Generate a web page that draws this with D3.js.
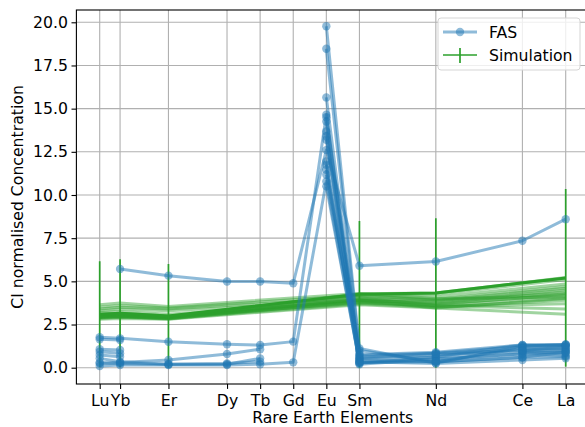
<!DOCTYPE html>
<meta charset="utf-8">
<script src="https://d3js.org/d3.v7.min.js"></script>
<style>
body { margin: 0; background: #fff; }
text { font-family: "DejaVu Sans", sans-serif; fill: #000; }
</style>
<div id="chart"></div>
<script>

// elements on the x axis, placed by ionic radius
var elements = ["Lu", "Yb", "Er", "Dy", "Tb", "Gd", "Eu", "Sm", "Nd", "Ce", "La"];
var radii = [0.977, 0.985, 1.004, 1.027, 1.040, 1.053, 1.066, 1.079, 1.109, 1.143, 1.160];

// FAS samples (null = not measured), order as in elements
var fasSamples = [
  [null, 5.72, 5.33, 4.99, 4.99, 4.89, 12.6, 5.9, 6.15, 7.35, 8.6],
  [1.76, 1.7, 1.5, 1.36, 1.31, 1.51, 14.65, 0.75, 0.9, 1.32, 1.35],
  [0.1, 0.16, 0.15, 0.16, 0.2, 0.31, 10.78, 0.3, 0.5, 0.8, 0.9],
  [1.65, 1.6, null, null, null, null, 19.77, 1.12, 0.25, 1.25, 1.32],
  [0.25, 0.3, 0.45, 0.79, 1.07, null, 18.47, 1.0, 0.35, 1.12, 1.2],
  [1.07, 1.03, null, null, null, null, 15.65, 0.6, 0.83, 1.0, 1.03],
  [0.93, 0.83, null, null, null, null, 14.5, 0.55, 0.75, 0.93, 0.83],
  [0.74, 0.64, null, null, null, null, 14.26, 0.5, 0.64, 1.32, 1.28],
  [0.54, 0.35, 0.2, 0.25, 0.35, null, 13.68, 0.45, 0.35, 0.6, 0.64],
  [0.3, 0.25, 0.2, 0.2, 0.54, null, 13.4, 0.4, null, 0.93, 1.0],
  [null, null, null, null, null, null, 13.2, 0.35, 0.25, 0.45, 0.55],
  [null, null, null, null, null, null, 11.94, 0.25, 0.64, 1.12, 1.1],
  [null, null, null, null, null, null, 11.75, 0.2, 0.5, 0.8, 0.7],
  [null, null, null, null, null, null, 11.46, 0.7, 0.83, 1.25, 1.35],
  [null, null, null, null, null, null, 11.17, 0.85, null, 1.0, 1.2],
  [null, null, null, null, null, null, 10.5, 0.3, 0.35, 0.6, 0.9]
];

// simulation runs, only at these elements
var simElements = ["Lu", "Yb", "Er", "Sm", "Nd", "La"];
var simRuns = [
  [3.05, 3.1, 2.95, 4.28, 4.32, 5.22],
  [3.0, 3.05, 2.9, 4.2, 4.25, 5.1],
  [2.95, 3.0, 2.88, 4.1, 4.1, 4.85],
  [2.9, 2.95, 2.85, 3.95, 3.9, 4.6],
  [2.85, 2.92, 2.82, 3.85, 3.8, 4.5],
  [2.95, 3.0, 2.9, 3.9, 3.75, 4.4],
  [3.1, 3.15, 3.0, 3.9, 3.7, 4.2],
  [3.0, 3.05, 2.95, 3.75, 3.6, 4.05],
  [2.9, 2.95, 2.85, 3.7, 3.5, 3.9],
  [3.2, 3.25, 3.1, 3.8, 3.55, 3.7],
  [3.5, 3.6, 3.45, 4.2, 3.9, 4.3],
  [3.65, 3.75, 3.55, 4.3, 4.0, 4.1],
  [3.4, 3.5, 3.4, 4.05, 3.6, 3.4],
  [3.3, 3.4, 3.3, 3.9, 3.45, 3.1],
  [2.8, 2.85, 2.8, 3.65, 3.45, 4.0],
  [3.0, 3.02, 2.92, 4.0, 3.95, 4.7],
  [2.92, 2.97, 2.87, 3.8, 3.65, 4.25]
];
var simMean = [3.1, 3.15, 3.0, 4.25, 4.33, 5.2];
var simErr = [3.07, 3.13, 3.0, 4.25, 4.33, 5.14];

var yTicks = [0, 2.5, 5, 7.5, 10, 12.5, 15, 17.5, 20];

var blue = "#1f77b4", green = "#2ca02c";
var fontSize = "15.7px";

// axes box (right edge falls just outside the picture)
var axLeft = 76.4, axRight = 589, axTop = 10, axBottom = 384;

var svg = d3.select("#chart")
  .append("svg")
    .attr("width", 585)
    .attr("height", 427);

var x = d3.scaleLinear().domain([0.96785, 1.16915]).range([axLeft, axRight]);
var y = d3.scaleLinear().domain([-0.944, 20.712]).range([axBottom, axTop]);

function radiusOf(el) { return radii[elements.indexOf(el)]; }

// grid
svg.append("g").selectAll("line").data(radii).enter().append("line")
  .attr("x1", function(d) { return x(d); }).attr("x2", function(d) { return x(d); })
  .attr("y1", axTop).attr("y2", axBottom)
  .attr("stroke", "#b0b0b0").attr("stroke-width", 1.1);
svg.append("g").selectAll("line").data(yTicks).enter().append("line")
  .attr("y1", function(d) { return y(d); }).attr("y2", function(d) { return y(d); })
  .attr("x1", axLeft).attr("x2", axRight)
  .attr("stroke", "#b0b0b0").attr("stroke-width", 1.1);

svg.append("defs").append("clipPath").attr("id", "clip")
  .append("rect").attr("x", axLeft).attr("y", axTop)
  .attr("width", axRight - axLeft).attr("height", axBottom - axTop);

var plot = svg.append("g").attr("clip-path", "url(#clip)");

// simulation runs
var simLine = d3.line()
  .x(function(d, i) { return x(radiusOf(simElements[i])); })
  .y(function(d) { return y(d); });

plot.append("g").selectAll("path").data(simRuns).enter().append("path")
  .attr("d", simLine)
  .attr("fill", "none")
  .attr("stroke", green)
  .attr("stroke-width", 3)
  .attr("stroke-opacity", 0.45);

// mean with error bars
plot.append("path")
  .attr("d", simLine(simMean))
  .attr("fill", "none")
  .attr("stroke", green)
  .attr("stroke-width", 3);

plot.append("g").selectAll("line").data(simMean).enter().append("line")
  .attr("x1", function(d, i) { return x(radiusOf(simElements[i])); })
  .attr("x2", function(d, i) { return x(radiusOf(simElements[i])); })
  .attr("y1", function(d, i) { return y(d - simErr[i]); })
  .attr("y2", function(d, i) { return y(d + simErr[i]); })
  .attr("stroke", green)
  .attr("stroke-width", 1.7);

// FAS samples
var fasLine = d3.line()
  .defined(function(d) { return d != null; })
  .x(function(d, i) { return x(radii[i]); })
  .y(function(d) { return y(d); });

var fas = plot.append("g").selectAll("g").data(fasSamples).enter().append("g");

fas.append("path")
  .attr("d", fasLine)
  .attr("fill", "none")
  .attr("stroke", blue)
  .attr("stroke-width", 3)
  .attr("stroke-opacity", 0.5)
  .attr("stroke-linejoin", "round");

fas.append("g").attr("fill-opacity", 0.5)
  .selectAll("circle")
  .data(function(d) { return d.map(function(v, i) { return {i: i, v: v}; }).filter(function(p) { return p.v != null; }); })
  .enter().append("circle")
    .attr("cx", function(p) { return x(radii[p.i]); })
    .attr("cy", function(p) { return y(p.v); })
    .attr("r", 4.2)
    .attr("fill", blue);

// axes
svg.append("g")
  .attr("transform", "translate(" + axLeft + ",0)")
  .call(d3.axisLeft(y).tickValues(yTicks).tickFormat(d3.format(".1f")).tickSize(4.9).tickPadding(3.5).tickSizeOuter(0));
svg.append("g")
  .attr("transform", "translate(0," + axBottom + ")")
  .call(d3.axisBottom(x).tickValues(radii).tickFormat(function(d, i) { return elements[i]; }).tickSize(4.9).tickPadding(5.5).tickSizeOuter(0));
svg.selectAll(".domain").remove();
svg.selectAll(".tick line").attr("stroke", "#000").attr("stroke-width", 1.1);
svg.selectAll(".tick text").attr("fill", "#000")
  .style("font-family", "DejaVu Sans").style("font-size", fontSize);

svg.append("rect")
  .attr("x", axLeft).attr("y", axTop)
  .attr("width", axRight - axLeft).attr("height", axBottom - axTop)
  .attr("fill", "none").attr("stroke", "#000").attr("stroke-width", 1.1);

// axis labels
svg.append("text")
  .attr("x", (axLeft + axRight) / 2).attr("y", 423)
  .attr("text-anchor", "middle")
  .style("font-size", fontSize)
  .text("Rare Earth Elements");

svg.append("text")
  .attr("transform", "translate(23," + (axTop + axBottom) / 2 + ") rotate(-90)")
  .attr("text-anchor", "middle")
  .style("font-size", fontSize)
  .text("CI normalised Concentration");

// legend
var legend = svg.append("g");
legend.append("rect")
  .attr("x", 438).attr("y", 18).attr("width", 142).attr("height", 52)
  .attr("rx", 3)
  .attr("fill", "#fff").attr("fill-opacity", 0.8)
  .attr("stroke", "#d5d5d5");

legend.append("line")
  .attr("x1", 443).attr("x2", 477).attr("y1", 32).attr("y2", 32)
  .attr("stroke", blue).attr("stroke-width", 3).attr("stroke-opacity", 0.5);
legend.append("circle")
  .attr("cx", 460).attr("cy", 32).attr("r", 4.2)
  .attr("fill", blue).attr("fill-opacity", 0.5);
legend.append("text")
  .attr("x", 489).attr("y", 37.5)
  .style("font-size", fontSize)
  .text("FAS");

legend.append("line")
  .attr("x1", 443).attr("x2", 477).attr("y1", 55).attr("y2", 55)
  .attr("stroke", green).attr("stroke-width", 1.7);
legend.append("line")
  .attr("x1", 460).attr("x2", 460).attr("y1", 48).attr("y2", 63)
  .attr("stroke", green).attr("stroke-width", 1.7);
legend.append("text")
  .attr("x", 489).attr("y", 60.5)
  .style("font-size", fontSize)
  .text("Simulation");

</script>
